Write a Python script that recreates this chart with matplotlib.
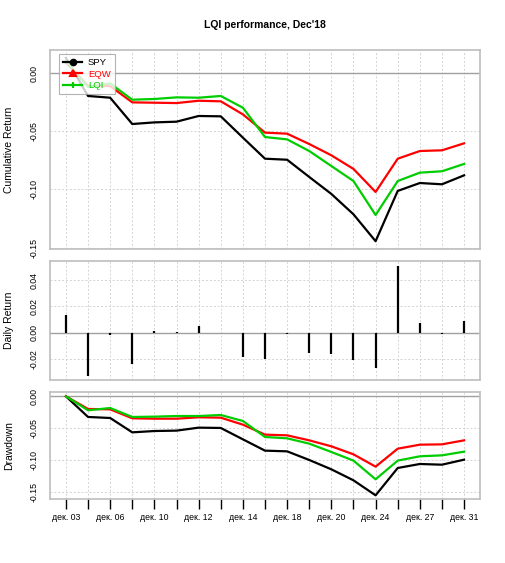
import matplotlib
matplotlib.use("Agg")
import matplotlib.pyplot as plt
from matplotlib.lines import Line2D

plt.rcParams['font.family'] = ['Liberation Sans', 'DejaVu Sans']

dates = ["дек. 03", "дек. 04", "дек. 06", "дек. 07", "дек. 10", "дек. 11", "дек. 12",
         "дек. 13", "дек. 14", "дек. 17", "дек. 18", "дек. 19", "дек. 20", "дек. 21",
         "дек. 24", "дек. 26", "дек. 27", "дек. 28", "дек. 31"]

# cumulative returns
spy_cum = [0.013, -0.0197, -0.0212, -0.0438, -0.0424, -0.0418, -0.0369, -0.0372, -0.0555,
           -0.0736, -0.0745, -0.0893, -0.1039, -0.1214, -0.1445, -0.1013, -0.0945, -0.0956, -0.0879]
eqw_cum = [0.009, -0.011, -0.0112, -0.0252, -0.0255, -0.0258, -0.0238, -0.0243, -0.0355,
           -0.0512, -0.0521, -0.0610, -0.0707, -0.0824, -0.1022, -0.0736, -0.0670, -0.0664, -0.0604]
lqi_cum = [0.010, -0.012, -0.0089, -0.0229, -0.0223, -0.0209, -0.0212, -0.0197, -0.0298,
           -0.0550, -0.0570, -0.0670, -0.0799, -0.0928, -0.1220, -0.0928, -0.0856, -0.0844, -0.0781]

# daily returns of SPY
spy_daily = [0.0132, -0.0327, -0.0015, -0.0235, 0.0015, 0.0002, 0.005, -0.0003, -0.0185,
             -0.0197, -0.0009, -0.0152, -0.0165, -0.0208, -0.0266, 0.0506, 0.0076, -0.001, 0.0086]

# drawdowns
spy_dd = [0.0, -0.0325, -0.0341, -0.0567, -0.0546, -0.054, -0.0493, -0.0498, -0.0677,
          -0.0855, -0.0866, -0.1002, -0.1149, -0.1322, -0.1558, -0.1128, -0.1065, -0.1076, -0.0997]
eqw_dd = [0.0, -0.0199, -0.0205, -0.0346, -0.0352, -0.0352, -0.033, -0.0336, -0.0446,
          -0.0603, -0.0614, -0.0693, -0.0787, -0.0913, -0.1107, -0.0824, -0.0761, -0.0756, -0.0693]
lqi_dd = [0.0, -0.022, -0.0184, -0.0325, -0.032, -0.031, -0.031, -0.0294, -0.0388,
          -0.064, -0.0661, -0.0745, -0.0876, -0.1012, -0.1306, -0.1012, -0.0944, -0.0929, -0.0871]

names = ["SPY", "EQW", "LQI"]
colours = ["black", "#FF0000", "#00CD00"]
markers = ["o", "^", "+"]

x = list(range(len(dates)))
W, H = 506, 563
fig = plt.figure(figsize=(W / 100, H / 100), dpi=100)

def box(top, bottom):
    return [50 / W, 1 - bottom / H, 430 / W, (bottom - top) / H]

def style(ax, yticks, ylim, ylabel, top, bottom):
    ax.set_xlim(-0.72, 18.72)
    ax.set_ylim(*ylim)
    for s in ax.spines.values():
        s.set_color('#BEBEBE')
        s.set_linewidth(1.2)
    for xi in x:
        ax.axvline(xi, color='#D3D3D3', linestyle=(0, (2, 2)), linewidth=0.7, zorder=0)
    for yt in yticks:
        if yt != 0:
            ax.axhline(yt, color='#D3D3D3', linestyle=(0, (2, 2)), linewidth=0.7, zorder=0)
    ax.axhline(0, color='#A0A0A0', linewidth=1.0, zorder=1)
    ax.set_yticks(yticks)
    ax.set_yticklabels(["%.2f" % v for v in yticks], rotation=90, va='center', fontsize=6.3)
    ax.tick_params(axis='y', length=0, pad=8)
    ax.set_xticks([])
    fig.text(9 / W, 1 - (top + bottom) / 2 / H, ylabel, rotation=90,
             ha='center', va='center', fontsize=7.5)

ax1 = fig.add_axes(box(50, 249))
for vals, c in zip([spy_cum, eqw_cum, lqi_cum], colours):
    ax1.plot(x, vals, color=c, linewidth=1.6, zorder=3)
style(ax1, [0.0, -0.05, -0.10, -0.15], (-0.1512, 0.0198), "Cumulative Return", 50, 249)
handles = [Line2D([0], [0], color=c, marker=m, linewidth=1.6, markersize=4, markeredgewidth=1.5)
           for c, m in zip(colours, markers)]
leg = ax1.legend(handles, names, loc='upper left', bbox_to_anchor=(0.021, 0.98),
                 borderaxespad=0, fontsize=6.8, frameon=True, fancybox=False,
                 handlelength=2.0, borderpad=0.45, labelspacing=0.25, handletextpad=0.6)
leg.get_frame().set_edgecolor('#A0A0A0')
leg.get_frame().set_linewidth(0.8)
leg.set_zorder(5)
for t, c in zip(leg.get_texts(), colours):
    t.set_color(c)
fig.text(265 / W, 1 - 25 / H, "LQI performance, Dec'18", ha='center', va='center',
         fontsize=7.5, fontweight='bold')

ax2 = fig.add_axes(box(261, 380))
ax2.vlines(x, 0, spy_daily, color='black', linewidth=1.6, zorder=3)
style(ax2, [0.04, 0.02, 0.0, -0.02], (-0.036, 0.0545), "Daily Return", 261, 380)

ax3 = fig.add_axes(box(392, 499))
for vals, c in zip([spy_dd, eqw_dd, lqi_dd], colours):
    ax3.plot(x, vals, color=c, linewidth=1.6, zorder=3)
style(ax3, [0.0, -0.05, -0.10, -0.15], (-0.1616, 0.0068), "Drawdown", 392, 499)
ax3.set_xticks(x)
ax3.set_xticklabels([d if i % 2 == 0 else "" for i, d in enumerate(dates)], fontsize=6.3)
ax3.tick_params(axis='x', length=7, width=1, color='black', pad=3)

fig.savefig("out.png", dpi=100)
